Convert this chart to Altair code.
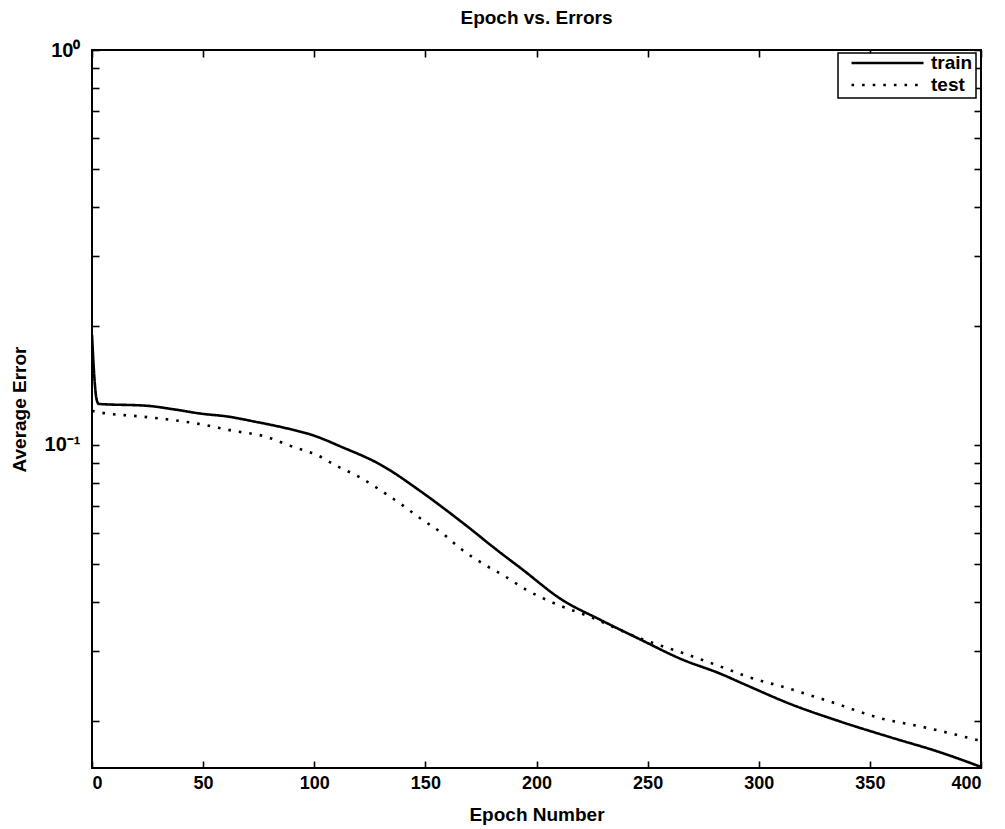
import altair as alt
import pandas as pd

# ---- data ----
train_epoch = [0, 1, 2, 3, 25, 37, 49, 61, 73, 85, 100, 112, 130, 148, 166, 184, 193,
               211, 229, 247, 265, 283, 294, 314, 337, 359, 381, 400]
train_error = [0.19, 0.15, 0.131, 0.127, 0.1256, 0.123, 0.120, 0.118, 0.1146, 0.111, 0.1055,
               0.099, 0.089, 0.0762, 0.064, 0.0532, 0.0487, 0.0407, 0.036, 0.0321, 0.0287,
               0.0263, 0.0247, 0.0221, 0.0199, 0.0182, 0.0167, 0.0153]

test_epoch = [0, 3, 22, 36, 49, 63, 78, 91, 101, 110, 120, 129, 139, 148, 158, 167, 176,
              186, 195, 209, 223, 247, 266, 284, 294, 313, 332, 355, 374, 400]
test_error = [0.122, 0.121, 0.118, 0.1157, 0.1128, 0.1087, 0.105, 0.0986, 0.0944, 0.0885,
              0.0831, 0.0773, 0.0708, 0.065, 0.0595, 0.054, 0.050, 0.0464, 0.0431, 0.0395,
              0.0369, 0.0323, 0.0297, 0.0273, 0.026, 0.0242, 0.0224, 0.0203, 0.0193, 0.0178]

series_names = ["train", "test"]
x_ticks = [0, 50, 100, 150, 200, 250, 300, 350, 400]
y_ticks = [0.02, 0.03, 0.04, 0.05, 0.06, 0.07, 0.08, 0.09,
           0.1, 0.2, 0.3, 0.4, 0.5, 0.6, 0.7, 0.8, 0.9, 1.0]
y_label_values = [0.1, 1.0]
y_label_texts = ["10\u207b\u00b9", "10\u2070"]
x_domain = [0, 400]
y_domain = [0.0152, 1]

df = pd.concat([
    pd.DataFrame({"epoch": train_epoch, "error": train_error, "series": series_names[0]}),
    pd.DataFrame({"epoch": test_epoch, "error": test_error, "series": series_names[1]}),
], ignore_index=True)

FONT = "Liberation Sans"

label_expr = " : ".join(
    f"abs(datum.value - {v}) < 1e-9 ? '{t}'" for v, t in zip(y_label_values, y_label_texts)
) + " : ''"

x_scale = alt.Scale(domain=x_domain, nice=False, zero=False)
y_scale = alt.Scale(type="log", domain=y_domain, nice=False)

TICK = 7
common = dict(grid=False, domain=False, tickColor="black", tickWidth=1.6, tickSize=TICK,
              offset=-TICK, labelColor="black", titleColor="black", labelFont=FONT,
              titleFont=FONT, labelFontWeight="bold", titleFontWeight="bold")

lines = alt.Chart(df).mark_line(strokeWidth=2.6, color="black", clip=True,
                                interpolate="monotone").encode(
    x=alt.X("epoch:Q", scale=x_scale,
            axis=alt.Axis(orient="bottom", values=x_ticks, format="d", title="Epoch Number",
                          labelPadding=6, titlePadding=13, labelFontSize=18,
                          titleFontSize=19, **common)),
    y=alt.Y("error:Q", scale=y_scale,
            axis=alt.Axis(orient="left", values=y_ticks, labelExpr=label_expr,
                          title="Average Error", labelPadding=12, titlePadding=15,
                          labelFontSize=20, titleFontSize=19, **common)),
    strokeDash=alt.StrokeDash(
        "series:N",
        scale=alt.Scale(domain=series_names, range=[[1, 0], [2.6, 8]]),
        legend=alt.Legend(title=None, orient="none", legendX=746, legendY=3,
                          symbolType="stroke", symbolSize=5184, symbolStrokeWidth=2.6,
                          symbolStrokeColor="black", symbolOffset=9, clipHeight=14,
                          rowPadding=3, padding=3, labelFont=FONT, labelFontSize=19,
                          labelFontWeight="bold", labelColor="black", labelOffset=6,
                          fillColor="white", strokeColor="black"),
    ),
)

frame_axes = alt.Chart(df).mark_line(strokeOpacity=0).encode(
    x=alt.X("epoch:Q", scale=x_scale,
            axis=alt.Axis(orient="top", values=x_ticks, labels=False, title=None, **common)),
    y=alt.Y("error:Q", scale=y_scale,
            axis=alt.Axis(orient="right", values=y_ticks, labels=False, title=None, **common)),
    detail="series:N",
)

chart = alt.layer(lines, frame_axes).resolve_axis(
    x="independent", y="independent"
).properties(
    width=889,
    height=718,
    background="white",
    padding={"left": 84, "top": 42, "right": 16, "bottom": 61},
    autosize=alt.AutoSizeParams(type="none"),
    title=alt.TitleParams("Epoch vs. Errors", font=FONT, fontSize=19, fontWeight="bold",
                          color="black", anchor="middle", offset=12),
).configure_view(
    stroke="black", strokeWidth=2
).configure_legend(
    strokeWidth=1.5
)

chart.save("out.html", embed_options={"renderer": "svg", "actions": False})
